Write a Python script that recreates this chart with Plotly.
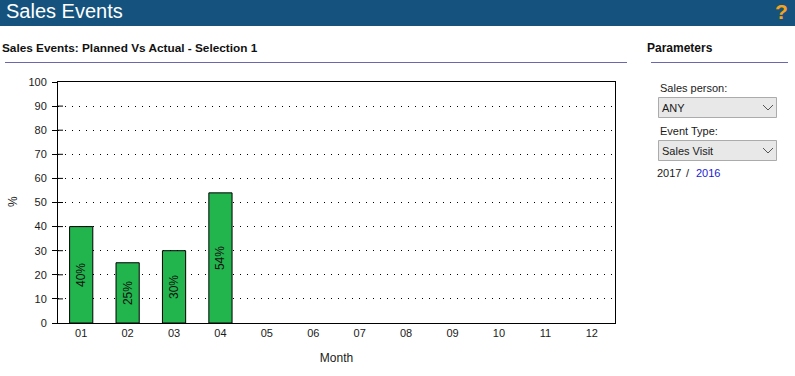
import plotly.graph_objects as go

months = ["01", "02", "03", "04", "05", "06", "07", "08", "09", "10", "11", "12"]
values = [40, 25, 30, 54, None, None, None, None, None, None, None, None]
labels = ["40%", "25%", "30%", "54%", "", "", "", "", "", "", "", ""]
y_ticks = list(range(0, 101, 10))

W, H = 795, 376
L, R, T, B = 58, 615, 82, 323
FONT = "Liberation Sans, Arial, sans-serif"
TXT = "#1a1a1a"


def px(x):
    return (x - L) / (R - L)


def py(y):
    return (B - y) / (B - T)


def note(x, y, text, size=11, color=TXT, anchor="left", rot=0, bold=False):
    return dict(
        x=px(x), y=py(y), xref="paper", yref="paper", text=f"<b>{text}</b>" if bold else text,
        showarrow=False, xanchor=anchor, yanchor="middle", textangle=rot,
        font=dict(family=FONT, size=size, color=color), borderpad=0, borderwidth=0,
    )


def rect(x0, y0, x1, y1, fill="rgba(0,0,0,0)", line=None, lw=1):
    return dict(
        type="rect", xref="paper", yref="paper", x0=px(x0), x1=px(x1), y0=py(y0), y1=py(y1),
        fillcolor=fill, line=dict(color=line or "rgba(0,0,0,0)", width=lw if line else 0), layer="below",
    )


def chevron(cx, cy):
    path = f"M {px(cx-5)} {py(cy-2.5)} L {px(cx)} {py(cy+2.5)} L {px(cx+5)} {py(cy-2.5)}"
    return dict(type="path", xref="paper", yref="paper", path=path, line=dict(color="#555555", width=1))


def hline(x0, x1, y, color):
    return dict(type="line", xref="paper", yref="paper", x0=px(x0), x1=px(x1), y0=py(y), y1=py(y),
                line=dict(color=color, width=1))


def inner_tick(v):
    return dict(type="line", xref="paper", yref="y", x0=px(58), x1=px(63), y0=v, y1=v,
                line=dict(color="#000000", width=1), layer="below")


fig = go.Figure(
    go.Bar(
        x=months, y=values, text=labels, width=0.5,
        marker=dict(color="#22b54e", line=dict(color="#000000", width=1)),
        textposition="inside", insidetextanchor="middle", textangle=-90,
        insidetextfont=dict(family=FONT, size=12, color="#111111"),
        hoverinfo="skip",
    )
)

shapes = [
    rect(0, 0, W, 26, fill="#15537e"),
    hline(5, 627, 62.5, "#6a67ad"),
    hline(651, 788, 62.5, "#6a67ad"),
    rect(658.5, 97.5, 776.5, 117.5, fill="#e8e8e8", line="#ababab"),
    rect(658.5, 140.5, 776.5, 160.5, fill="#e8e8e8", line="#ababab"),
    chevron(768, 107.5),
    chevron(768, 150.5),
] + [inner_tick(v) for v in y_ticks[1:-1]]

annotations = [
    note(6, 11, "Sales Events", size=20, color="#ffffff"),
    note(781, 12, "?", size=21, color="#f7a21b", anchor="center", bold=True),
    note(2, 48, "Sales Events: Planned Vs Actual - Selection 1", size=11.8, color="#111111", bold=True),
    note(647, 48, "Parameters", size=12, color="#111111", bold=True),
    note(660, 88, "Sales person:", size=11),
    note(662, 108, "ANY", size=11),
    note(660, 131, "Event Type:", size=11),
    note(662, 151, "Sales Visit", size=11),
    note(657, 173, "2017", size=11),
    note(686, 173, "/", size=11),
    note(696, 173, "2016", size=11, color="#1a1ad6"),
    note(13, 202, "%", size=12, anchor="center", rot=-90),
]

fig.update_layout(
    width=W, height=H, autosize=False,
    margin=dict(l=L, r=W - R, t=T, b=H - B, pad=0),
    paper_bgcolor="#ffffff", plot_bgcolor="#ffffff",
    showlegend=False, shapes=shapes, annotations=annotations,
    font=dict(family=FONT, size=12, color=TXT),
    xaxis=dict(
        type="category", categoryorder="array", categoryarray=months, tickvals=months, ticktext=months,
        range=[-0.5, 11.5], showgrid=False, ticks="", ticklen=0, automargin=False,
        showline=True, linecolor="#000000", linewidth=1, mirror=True,
        title=dict(text="Month", font=dict(size=12)),
        tickfont=dict(size=11), zeroline=False,
    ),
    yaxis=dict(
        range=[0, 100], tickvals=y_ticks, ticks="outside", ticklen=5, tickcolor="#000000", tickwidth=1,
        showgrid=True, gridcolor="#000000", gridwidth=1, griddash="1px,6px", automargin=False,
        showline=True, linecolor="#000000", linewidth=1, mirror=True, zeroline=False,
        ticklabelstandoff=3, tickfont=dict(size=11),
    ),
)

fig.write_html(
    "out.html",
    config=dict(displayModeBar=False, staticPlot=True),
    post_script="document.body.style.margin='0';document.body.style.overflow='hidden';",
)
